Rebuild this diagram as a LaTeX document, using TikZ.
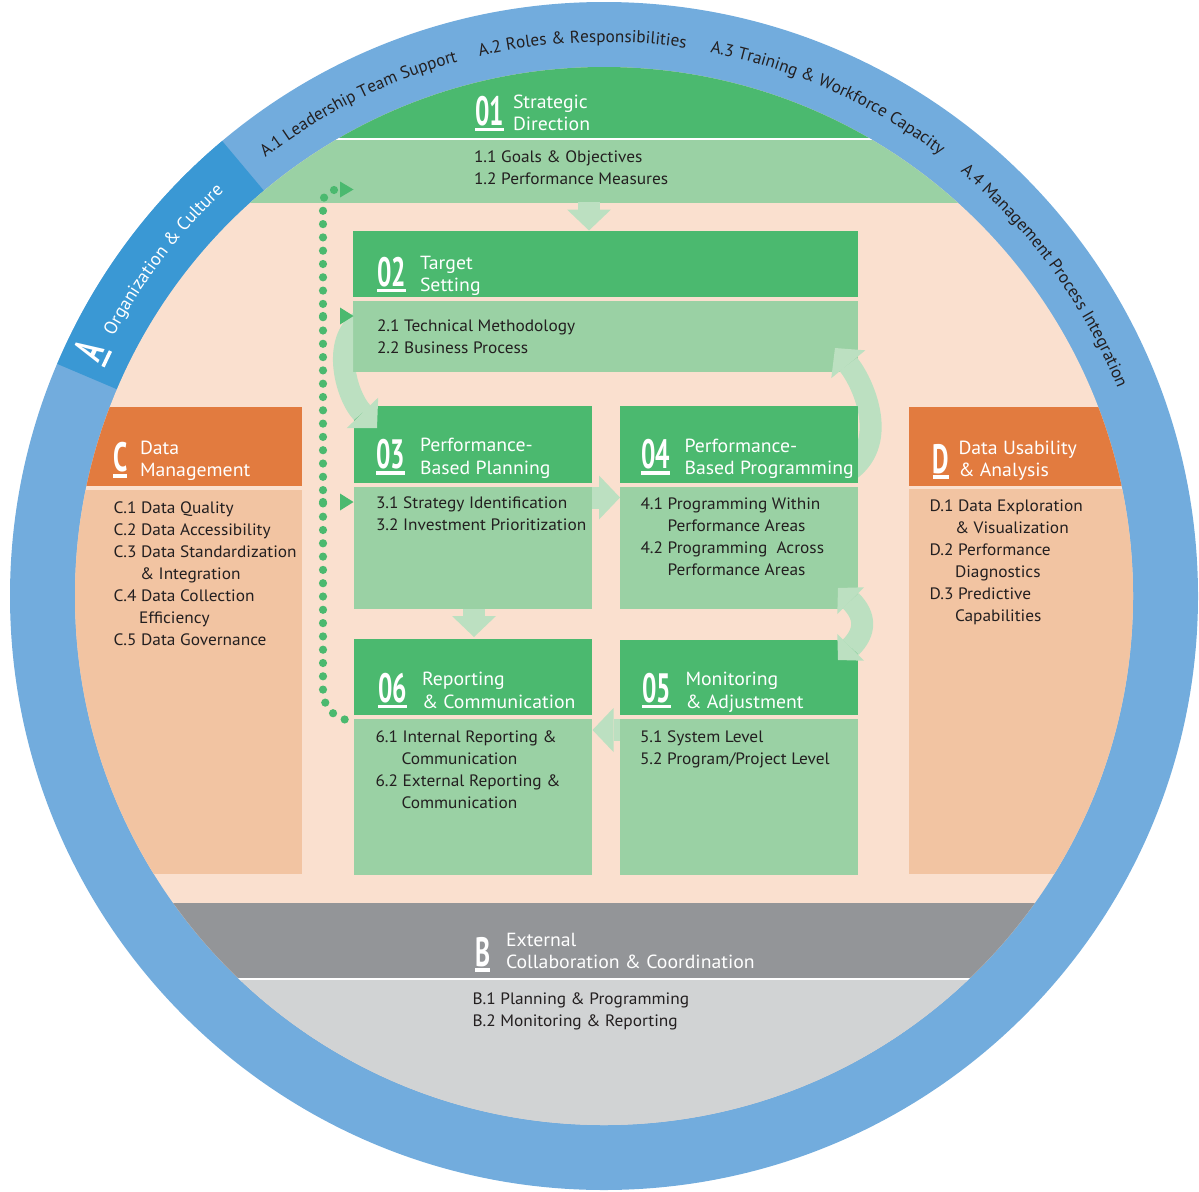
\documentclass[tikz,border=0pt]{standalone}
\usepackage{fontspec}
\setmainfont{PT Sans}
\newfontfamily\numfont[FakeStretch=0.62]{PT Sans}
\newfontfamily\bodyfont[FakeStretch=1.05]{PT Sans}
\newfontfamily\titlefont[FakeStretch=1.04]{PT Sans}
\usetikzlibrary{arrows.meta,decorations.text}
\definecolor{ringblue}{HTML}{72ACDD}
\definecolor{ringdark}{HTML}{3A98D4}
\definecolor{peach}{HTML}{FAE0CF}
\definecolor{dgreen}{HTML}{4BB96F}
\definecolor{lgreen}{HTML}{9AD1A4}
\definecolor{agreen}{HTML}{BCE0C1}
\definecolor{cOrange}{HTML}{E27B3F}
\definecolor{lOrange}{HTML}{F2C4A2}
\definecolor{dgray}{HTML}{939598}
\definecolor{lgray}{HTML}{D1D3D4}
\definecolor{ink}{HTML}{231F20}
\newcommand\bodyfs{\bodyfont\fontsize{16.5}{20}\selectfont}
\newcommand\titlefs{\titlefont\fontsize{19}{22}\selectfont}
\newcommand\numfs{\numfont\bfseries\fontsize{41}{41}\selectfont}
\newcommand\ringfs{\fontsize{17.2}{20}\selectfont}
\newcommand\orgfs{\fontsize{18.3}{21}\selectfont}
\newcommand\ringlabel[5]{%
  \path[shift={(604,-596)}, decorate, decoration={text along path, text align=center, text color=#4, text={#5}}]
    (#1:#3) arc[start angle=#1, end angle=#2, radius=#3];}
\tikzset{
  bodytxt/.style={anchor=base west, inner sep=0pt, outer sep=0pt, text=ink, font=\bodyfs},
  titletxt/.style={anchor=base west, inner sep=0pt, outer sep=0pt, text=white, font=\titlefs},
  numtxt/.style={anchor=base west, inner sep=0pt, outer sep=0pt, text=white, font=\numfs},
  panel/.style={anchor=north west, inner sep=0pt, outer sep=0pt, draw=none},
  hdr/.style={panel, fill=dgreen},
  bdy/.style={panel, fill=lgreen},
  blockarrow/.style={draw=agreen, line width=22pt, -{Triangle[length=21pt,width=44pt,line width=0pt]}},
  dotline/.style={draw=dgreen, line width=8.2pt, line cap=round, dash pattern=on 0pt off 13.3pt},
  dothead/.style={fill=dgreen, draw=none},
}
\begin{document}
\begin{tikzpicture}[x=1pt,y=1pt]
\useasboundingbox (0,0) rectangle (1199,-1191);
\coordinate (ctr) at (604,-596);
% ring
\fill[ringblue] (ctr) circle[radius=594];
\fill[ringdark, shift={(604,-596)}] (130:594) arc[start angle=130, end angle=157, radius=594]
  -- (157:529) arc[start angle=157, end angle=130, radius=529] -- cycle;
\fill[peach] (ctr) circle[radius=529];
% bands clipped by inner circle
\begin{scope}
  \clip (ctr) circle[radius=529];
  \fill[dgreen] (0,0) rectangle (1199,-137.5);
  \fill[white] (0,-137.5) rectangle (1199,-139.7);
  \fill[lgreen] (0,-139.7) rectangle (1199,-202.5);
  \fill[dgray] (0,-902.5) rectangle (1199,-977.7);
  \fill[white] (0,-977.7) rectangle (1199,-979.8);
  \fill[lgray] (0,-979.8) rectangle (1199,-1191);
  \node[panel, fill=cOrange, minimum width=302.3pt, minimum height=79pt] (hC) at (0,-407.3) {};
  \node[panel, fill=lOrange, minimum width=302.3pt, minimum height=384.5pt] (pC) at (0,-489.5) {};
  \node[panel, fill=cOrange, minimum width=291pt, minimum height=79.5pt] (hD) at (908.5,-406.8) {};
  \node[panel, fill=lOrange, minimum width=291pt, minimum height=385pt] (pD) at (908.5,-489) {};
\end{scope}
% process boxes
\node[hdr, minimum width=505pt, minimum height=66pt] (h02) at (353,-231) {};
\node[bdy, minimum width=505pt, minimum height=71pt] (p02) at (353,-300.5) {};
\node[hdr, minimum width=237.5pt, minimum height=76.5pt] (h03) at (354,-406) {};
\node[bdy, minimum width=237.5pt, minimum height=122pt] (p03) at (354,-487) {};
\node[hdr, minimum width=238pt, minimum height=76.5pt] (h04) at (620,-406) {};
\node[bdy, minimum width=238pt, minimum height=122pt] (p04) at (620,-487) {};
\node[hdr, minimum width=237.5pt, minimum height=76.5pt] (h06) at (354,-638.5) {};
\node[bdy, minimum width=237.5pt, minimum height=156pt] (p06) at (354,-718.5) {};
\node[hdr, minimum width=238pt, minimum height=75pt] (h05) at (620,-640) {};
\node[bdy, minimum width=238pt, minimum height=155.5pt] (p05) at (620,-719) {};
% straight block arrows
\coordinate (a12s) at (589,-202); \coordinate (a12e) at (589,-230.5);
\coordinate (a34s) at (591.5,-497.5); \coordinate (a34e) at (620,-497.5);
\coordinate (a36s) at (474,-608.5); \coordinate (a36e) at (474,-637);
\coordinate (a56s) at (620,-730); \coordinate (a56e) at (592.5,-730);
\draw[blockarrow] (a12s) -- (a12e);
\draw[blockarrow] (a34s) -- (a34e);
\draw[blockarrow] (a36s) -- (a36e);
\draw[blockarrow] (a56s) -- (a56e);
% curved arrows
\coordinate (c23s) at (366,-318); \coordinate (c23e) at (377,-428);
\begin{scope}
  \clip (300,-290) -- (353,-290) -- (353,-372) -- (420,-372) -- (420,-450) -- (300,-450) -- cycle;
  \draw[blockarrow] (c23s) .. controls (330,-335) and (345,-395) .. (c23e);
\end{scope}
\coordinate (c42s) at (850,-470); \coordinate (c42e) at (835,-348);
\begin{scope}
  \clip (815,-330) -- (905,-330) -- (905,-520) -- (858,-520) -- (858,-406) -- (815,-406) -- cycle;
  \draw[blockarrow] (c42s) .. controls (890,-440) and (862,-381) .. (c42e);
\end{scope}
\coordinate (c45s) at (838,-588); \coordinate (c45e) at (838,-660);
\draw[blockarrow, {Triangle[length=18pt,width=38pt,line width=0pt]}-{Triangle[length=18pt,width=38pt,line width=0pt]}]
  (c45s) .. controls (866,-616) and (866,-632) .. (c45e);
% dotted feedback line
\coordinate (dTop) at (334,-190); \coordinate (dEnd) at (351,-721);
\coordinate (dB1) at (323,-316); \coordinate (dB1e) at (334,-316);
\coordinate (dB2) at (323,-502); \coordinate (dB2e) at (334,-502);
\draw[dotline] (dTop) to[out=180,in=90] (323,-203) -- (323,-690) .. controls (323,-708) and (334,-718) .. (dEnd);
\draw[dotline, dash pattern=on 0pt off 11pt] (dB1) -- (dB1e);
\draw[dotline, dash pattern=on 0pt off 11pt] (dB2) -- (dB2e);
\fill[dothead] (340,-181.5) -- (353.5,-189.5) -- (340,-197.5) -- cycle;
\fill[dothead] (340,-307.5) -- (353.5,-316) -- (340,-324.5) -- cycle;
\fill[dothead] (340,-493.5) -- (353.5,-502) -- (340,-510.5) -- cycle;
% ---- texts ----
% 01
\node[numtxt] (n01) at (475,-125) {01};
\node[titletxt] (t01a) at (513,-108) {Strategic};
\node[titletxt] (t01b) at (513,-130) {Direction};
\node[bodytxt] (b01a) at (474,-162.5) {1.1 Goals \& Objectives};
\node[bodytxt] (b01b) at (474,-184) {1.2 Performance Measures};
% 02
\node[numtxt] (n02) at (377,-286) {02};
\node[titletxt] (t02a) at (420,-269.5) {Target};
\node[titletxt] (t02b) at (420,-291.5) {Setting};
\node[bodytxt] (b02a) at (377,-331.5) {2.1 Technical Methodology};
\node[bodytxt] (b02b) at (377,-353) {2.2 Business Process};
% 03
\node[numtxt] (n03) at (376,-468.5) {03};
\node[titletxt] (t03a) at (420,-451.5) {Performance-};
\node[titletxt] (t03b) at (420,-474) {Based Planning};
\node[bodytxt] (b03a) at (376,-508.5) {3.1 Strategy Identification};
\node[bodytxt] (b03b) at (376,-530.5) {3.2 Investment Prioritization};
% 04
\node[numtxt] (n04) at (641,-468.5) {04};
\node[titletxt] (t04a) at (684.5,-452) {Performance-};
\node[titletxt] (t04b) at (684.5,-474.5) {Based Programming};
\node[bodytxt] (b04a) at (640.5,-509) {4.1 Programming Within};
\node[bodytxt] (b04b) at (667.5,-531.5) {Performance Areas};
\node[bodytxt] (b04c) at (640.5,-553.5) {4.2 Programming~ Across};
\node[bodytxt] (b04d) at (667.5,-575.5) {Performance Areas};
% 06
\node[numtxt] (n06) at (378,-702) {06};
\node[titletxt] (t06a) at (422,-685.5) {Reporting};
\node[titletxt] (t06b) at (422,-708) {\& Communication};
\node[bodytxt] (b06a) at (375.5,-742.5) {6.1 Internal Reporting \&};
\node[bodytxt] (b06b) at (401.5,-764.5) {Communication};
\node[bodytxt] (b06c) at (375.5,-786.5) {6.2 External Reporting \&};
\node[bodytxt] (b06d) at (401.5,-808.5) {Communication};
% 05
\node[numtxt] (n05) at (642,-702) {05};
\node[titletxt] (t05a) at (685.5,-685.5) {Monitoring};
\node[titletxt] (t05b) at (685.5,-708) {\& Adjustment};
\node[bodytxt] (b05a) at (640,-742.5) {5.1 System Level};
\node[bodytxt] (b05b) at (640,-764.5) {5.2 Program/Project Level};
% C
\node[numtxt] (nC) at (113,-471.5) {C};
\node[titletxt] (tCa) at (140,-454) {Data};
\node[titletxt] (tCb) at (140,-476.5) {Management};
\node[bodytxt] (bC1) at (113.5,-513.3) {C.1 Data Quality};
\node[bodytxt] (bC2) at (113.5,-535) {C.2 Data Accessibility};
\node[bodytxt] (bC3) at (113.5,-557) {C.3 Data Standardization};
\node[bodytxt] (bC3b) at (140,-579) {\& Integration};
\node[bodytxt] (bC4) at (113.5,-601) {C.4 Data Collection};
\node[bodytxt] (bC4b) at (139,-623.3) {Efficiency};
\node[bodytxt] (bC5) at (113.5,-645.7) {C.5 Data Governance};
% D
\node[numtxt] (nD) at (932.5,-473) {D};
\node[titletxt] (tDa) at (958.5,-454) {Data Usability};
\node[titletxt] (tDb) at (958.5,-476.5) {\& Analysis};
\node[bodytxt] (bD1) at (929.5,-511) {D.1 Data Exploration};
\node[bodytxt] (bD1b) at (955,-533.3) {\& Visualization};
\node[bodytxt] (bD2) at (929.5,-555) {D.2 Performance};
\node[bodytxt] (bD2b) at (955,-577.3) {Diagnostics};
\node[bodytxt] (bD3) at (929.5,-599) {D.3 Predictive};
\node[bodytxt] (bD3b) at (955,-621) {Capabilities};
% B
\node[numtxt] (nB) at (475,-966) {B};
\node[titletxt] (tBa) at (506,-946) {External};
\node[titletxt] (tBb) at (506,-968.5) {Collaboration \& Coordination};
\node[bodytxt] (bB1) at (472.5,-1004.5) {B.1 Planning \& Programming};
\node[bodytxt] (bB2) at (472.5,-1026.5) {B.2 Monitoring \& Reporting};
% underlines of numbers and letters
\foreach \n in {n01,n02,n03,n04,n05,n06,nB,nC,nD}
  \fill[white] ([yshift=-2pt]\n.south west) rectangle ([yshift=-5.5pt]\n.south east);
% ring labels
\ringlabel{144.5}{88.5}{554}{ink}{|\ringfs|A.1 Leadership Team Support}
\ringlabel{120.25}{64.25}{554}{ink}{|\ringfs|A.2 Roles {\&} Responsibilities}
\ringlabel{93.85}{37.85}{554}{ink}{|\ringfs|A.3 Training {\&} Workforce Capacity}
\ringlabel{64}{8}{554}{ink}{|\ringfs|A.4 Management Process Integration}
\ringlabel{170.65}{114.65}{555}{white}{|\orgfs|Organization {\&} Culture}
\ringlabel{164.5}{144.5}{556}{white}{|\numfs|A}
\draw[white, line width=3.5pt, shift={(604,-596)}] (155.4:551) arc[start angle=155.4, end angle=153.6, radius=551];
\end{tikzpicture}
\end{document}
